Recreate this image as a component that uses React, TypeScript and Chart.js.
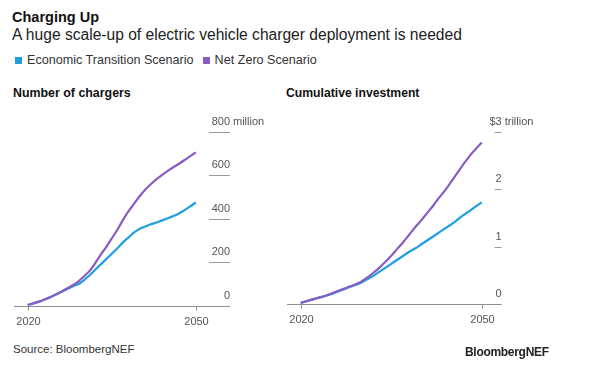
import React, { useEffect, useRef } from 'react';
import { Chart, registerables } from 'chart.js';

Chart.register(...registerables);

// ---------- data ----------
const years = [
  2020, 2021, 2022, 2023, 2024, 2025, 2026, 2027, 2028, 2029, 2030,
  2031, 2032, 2033, 2034, 2035, 2036, 2037, 2038, 2039, 2040,
  2041, 2042, 2043, 2044, 2045, 2046, 2047, 2048, 2049, 2050,
];

// Number of chargers (million)
const chargersETS = [
  5, 12, 20, 30, 40, 52, 64, 77, 90, 100, 118,
  140, 165, 190, 215, 240, 265, 292, 315, 338, 355,
  365, 375, 383, 393, 403, 413, 425, 440, 457, 475,
];
const chargersNZS = [
  5, 12, 20, 30, 40, 53, 66, 80, 95, 112, 135,
  160, 195, 235, 270, 310, 350, 395, 435, 470, 505,
  535, 560, 582, 602, 620, 637, 653, 670, 688, 705,
];

// Cumulative investment ($ trillion)
const investETS = [
  0.02, 0.05, 0.08, 0.11, 0.14, 0.17, 0.21, 0.25, 0.29, 0.33, 0.37,
  0.43, 0.49, 0.56, 0.63, 0.7, 0.77, 0.84, 0.91, 0.97, 1.04,
  1.11, 1.18, 1.25, 1.32, 1.39, 1.47, 1.55, 1.62, 1.7, 1.77,
];
const investNZS = [
  0.02, 0.05, 0.08, 0.11, 0.14, 0.18, 0.22, 0.26, 0.3, 0.34, 0.39,
  0.46, 0.54, 0.63, 0.73, 0.84, 0.96, 1.08, 1.21, 1.34, 1.46,
  1.59, 1.72, 1.86, 1.99, 2.14, 2.29, 2.44, 2.58, 2.7, 2.81,
];

const chargerTicks = [0, 200, 400, 600, 800];
const investTicks = [0, 1, 2, 3];
const chargerTickLabels = ['0', '200', '400', '600', '800'];
const investTickLabels = ['0', '1', '2', '$3'];
const xTickYears = [2020, 2050];

const seriesNames = ['Economic Transition Scenario', 'Net Zero Scenario'];
const BLUE = '#1f9fe0';
const PURPLE = '#8a5cc2';
const FONT = '"Liberation Sans", Arial, Helvetica, sans-serif';

type PanelProps = {
  left: number;
  top: number;
  width: number;
  height: number;
  padding: { left: number; right: number; top: number; bottom: number };
  xMin: number;
  xMax: number;
  yMax: number;
  ets: number[];
  nzs: number[];
  yTicks: number[];
  yTickLabels: string[];
  topSuffix: string;
  tickLen: number;
};

function Panel(p: PanelProps) {
  const ref = useRef<HTMLCanvasElement | null>(null);
  useEffect(() => {
    if (!ref.current) return;
    const axisPlugin = {
      id: 'bnefAxes',
      beforeDatasetsDraw(chart: any) {
        const ctx = chart.ctx;
        const area = chart.chartArea;
        const xs = chart.scales.x;
        const ys = chart.scales.y;
        ctx.save();
        const base = Math.round(ys.getPixelForValue(0)) + 0.5;
        // baseline
        ctx.strokeStyle = '#8f8f8f';
        ctx.lineWidth = 1;
        ctx.beginPath();
        ctx.moveTo(area.left, base);
        ctx.lineTo(area.right, base);
        ctx.stroke();
        // y tick lines
        ctx.strokeStyle = '#9a9a9a';
        p.yTicks.forEach((v) => {
          if (v === 0) return;
          const y = Math.round(ys.getPixelForValue(v)) + 0.5;
          ctx.beginPath();
          ctx.moveTo(area.right - p.tickLen, y);
          ctx.lineTo(area.right, y);
          ctx.stroke();
        });
        // y labels
        ctx.fillStyle = '#555';
        ctx.font = `11px ${FONT}`;
        ctx.textBaseline = 'middle';
        p.yTicks.forEach((v, i) => {
          const y = ys.getPixelForValue(v) - 10;
          ctx.textAlign = 'right';
          ctx.fillText(p.yTickLabels[i], area.right, y);
          if (i === p.yTicks.length - 1 && p.topSuffix) {
            ctx.textAlign = 'left';
            ctx.fillText(p.topSuffix, area.right + 3, y);
          }
        });
        // x ticks + labels
        ctx.strokeStyle = '#8f8f8f';
        ctx.textAlign = 'center';
        xTickYears.forEach((yr) => {
          const x = Math.round(xs.getPixelForValue(yr)) + 0.5;
          ctx.beginPath();
          ctx.moveTo(x, base);
          ctx.lineTo(x, base + 4);
          ctx.stroke();
          ctx.fillText(String(yr), x, base + 15);
        });
        ctx.restore();
      },
    };
    const chart = new Chart(ref.current, {
      type: 'line',
      data: {
        datasets: [
          {
            label: seriesNames[0],
            data: years.map((yr, i) => ({ x: yr, y: p.ets[i] })),
            borderColor: BLUE,
            backgroundColor: BLUE,
            borderWidth: 2.2,
            pointRadius: 0,
            tension: 0.3,
            order: 2,
          },
          {
            label: seriesNames[1],
            data: years.map((yr, i) => ({ x: yr, y: p.nzs[i] })),
            borderColor: PURPLE,
            backgroundColor: PURPLE,
            borderWidth: 2.2,
            pointRadius: 0,
            tension: 0.3,
            order: 1,
          },
        ],
      },
      options: {
        animation: false,
        responsive: false,
        maintainAspectRatio: false,
        layout: { padding: p.padding },
        plugins: { legend: { display: false }, tooltip: { enabled: false } },
        scales: {
          x: { type: 'linear', min: p.xMin, max: p.xMax, display: false },
          y: { type: 'linear', min: 0, max: p.yMax, display: false },
        },
      } as any,
      plugins: [axisPlugin],
    });
    return () => chart.destroy();
  }, []);
  return (
    <canvas
      ref={ref}
      width={p.width}
      height={p.height}
      style={{ position: 'absolute', left: p.left, top: p.top, width: p.width, height: p.height }}
    />
  );
}

const txt = (extra: React.CSSProperties): React.CSSProperties => ({
  position: 'absolute',
  fontFamily: FONT,
  whiteSpace: 'nowrap',
  margin: 0,
  ...extra,
});

export default function App() {
  return (
    <div
      style={{
        position: 'absolute',
        left: 0,
        top: 0,
        width: 591,
        height: 388,
        background: '#fff',
        overflow: 'hidden',
      }}
    >
      <div style={txt({ left: 12, top: 8, fontSize: 14.5, fontWeight: 700, color: '#111', lineHeight: '18px' })}>
        Charging Up
      </div>
      <div style={txt({ left: 12, top: 25, fontSize: 15.6, color: '#222', lineHeight: '19px' })}>
        A huge scale-up of electric vehicle charger deployment is needed
      </div>
      <div style={{ position: 'absolute', left: 15, top: 53, height: 14, display: 'flex', alignItems: 'center', fontFamily: FONT, fontSize: 12.6, color: '#333', whiteSpace: 'nowrap' }}>
        <span style={{ display: 'inline-block', width: 7, height: 7, background: BLUE, marginRight: 5 }} />
        <span>{seriesNames[0]}</span>
        <span style={{ display: 'inline-block', width: 7, height: 7, background: PURPLE, marginLeft: 9, marginRight: 5 }} />
        <span>{seriesNames[1]}</span>
      </div>
      <div style={txt({ left: 13, top: 86, fontSize: 12.4, fontWeight: 700, color: '#111', lineHeight: '14px' })}>
        Number of chargers
      </div>
      <div style={txt({ left: 286, top: 86, fontSize: 12.2, fontWeight: 700, color: '#111', lineHeight: '14px' })}>
        Cumulative investment
      </div>

      <Panel
        left={0}
        top={100}
        width={290}
        height={240}
        padding={{ left: 14, right: 60, top: 31.7, bottom: 34 }}
        xMin={2017.55}
        xMax={2056.1}
        yMax={800}
        ets={chargersETS}
        nzs={chargersNZS}
        yTicks={chargerTicks}
        yTickLabels={chargerTickLabels}
        topSuffix="million"
        tickLen={21}
      />
      <Panel
        left={280}
        top={100}
        width={311}
        height={240}
        padding={{ left: 7, right: 89.3, top: 31.7, bottom: 36 }}
        xMin={2017.73}
        xMax={2053.3}
        yMax={3}
        ets={investETS}
        nzs={investNZS}
        yTicks={investTicks}
        yTickLabels={investTickLabels}
        topSuffix="trillion"
        tickLen={7}
      />

      <div style={txt({ left: 13, top: 342, fontSize: 11.5, color: '#333', lineHeight: '14px' })}>
        Source: BloombergNEF
      </div>
      <div style={txt({ left: 465, top: 345, fontSize: 12, fontWeight: 700, color: '#222', lineHeight: '14px', letterSpacing: '-0.3px' })}>
        BloombergNEF
      </div>
    </div>
  );
}
